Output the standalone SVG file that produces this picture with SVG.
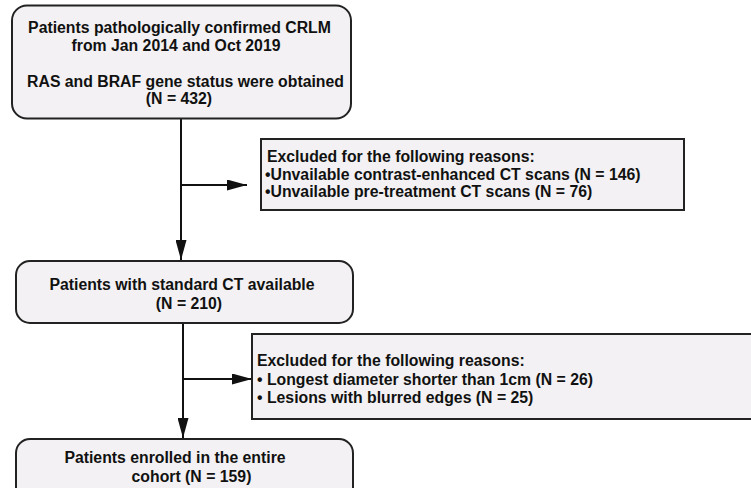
<svg xmlns="http://www.w3.org/2000/svg" width="751" height="488" viewBox="0 0 751 488">
<style>
.box{fill:#f3f1f3;stroke:#222;stroke-width:2}
.t{font-family:"Liberation Sans",Arial,sans-serif;font-weight:bold;font-size:15.8px;fill:#111}
.m{text-anchor:middle}
.c{fill:none;stroke:#111;stroke-width:2}
</style>
<defs>
<marker id="ah" markerUnits="userSpaceOnUse" markerWidth="20" markerHeight="11" refX="20" refY="5.5" orient="auto">
<path d="M0,0 L20,5.5 L0,11 z" fill="#111"/>
</marker>
</defs>
<g id="connectors">
<line class="c" x1="181" y1="119" x2="181" y2="260" marker-end="url(#ah)"/>
<line class="c" x1="181" y1="185" x2="247" y2="185" marker-end="url(#ah)"/>
<line class="c" x1="183" y1="323" x2="183" y2="438" marker-end="url(#ah)"/>
<line class="c" x1="183" y1="379" x2="252" y2="379" marker-end="url(#ah)"/>
</g>
<g id="n1">
<rect class="box" x="12" y="5.5" width="339" height="113" rx="15"/>
<text class="t m" x="179.5" y="33">Patients pathologically confirmed CRLM</text>
<text class="t m" x="176" y="51">from Jan 2014 and Oct 2019</text>
<text class="t m" x="185.5" y="87">RAS and BRAF gene status were obtained</text>
<text class="t m" x="179" y="104">(N = 432)</text>
</g>
<g id="e1">
<rect class="box" x="261" y="139" width="423" height="71"/>
<text class="t" x="267" y="162">Excluded for the following reasons:</text>
<text class="t" x="265" y="180">•Unvailable contrast-enhanced CT scans (N = 146)</text>
<text class="t" x="265" y="197">•Unvailable pre-treatment CT scans (N = 76)</text>
</g>
<g id="n2">
<rect class="box" x="16" y="261" width="337" height="62" rx="14"/>
<text class="t m" x="182" y="290">Patients with standard CT available</text>
<text class="t m" x="189" y="309">(N = 210)</text>
</g>
<g id="e2">
<rect class="box" x="252" y="334" width="510" height="85"/>
<text class="t" x="257" y="366">Excluded for the following reasons:</text>
<text class="t" x="257" y="385">• Longest diameter shorter than 1cm (N = 26)</text>
<text class="t" x="257" y="403">• Lesions with blurred edges (N = 25)</text>
</g>
<g id="n3">
<rect class="box" x="16" y="439" width="337" height="70" rx="14"/>
<text class="t m" x="175" y="463">Patients enrolled in the entire</text>
<text class="t m" x="191.5" y="482">cohort (N = 159)</text>
</g>
</svg>
